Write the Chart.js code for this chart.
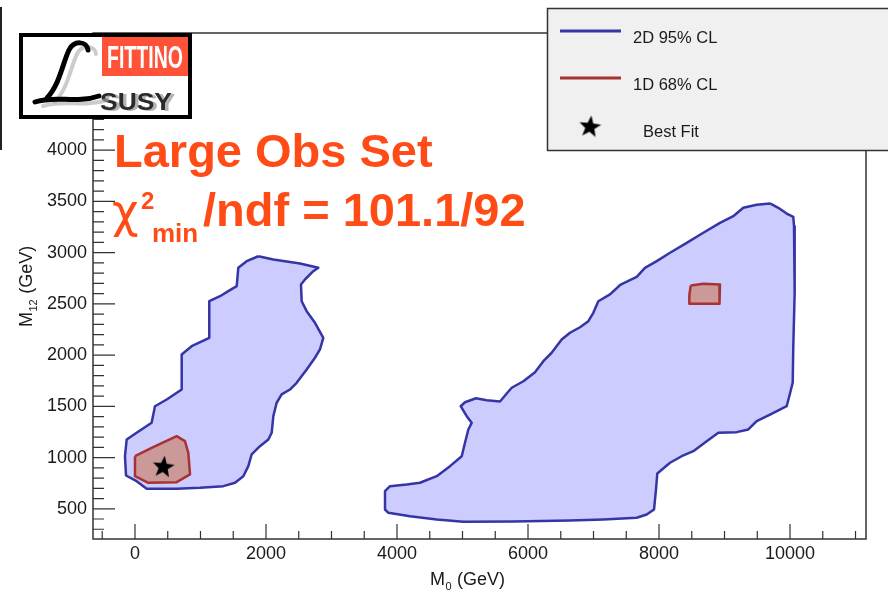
<!DOCTYPE html>
<html><head><meta charset="utf-8">
<script src="https://cdn.jsdelivr.net/npm/chart.js@4.4.1/dist/chart.umd.min.js"></script>
<style>html,body{margin:0;padding:0;background:#fff;}#wrap{width:888px;height:593px;position:relative;}</style>
</head><body><div id="wrap"><canvas id="c" width="888" height="593"></canvas></div>
<script>
// ---- data ----
const xTickValues = [0, 2000, 4000, 6000, 8000, 10000];
const yTickValues = [500, 1000, 1500, 2000, 2500, 3000, 3500, 4000];

// 2D 95% CL, low-M0 island
const cl95LeftM0  = [1883,2112,2519,2799,2722,2595,2534,2545,2621,2748,2875,2824,2748,2621,2468,2366,2239,2163,2112,2087,2036,1908,1781,1730,1654,1527,1349,992,636,178,25,-137,-153,-127,25,254,305,484,713,713,865,1134,1134,1298,1424,1553,1577,1705];
const cl95LeftM12 = [2965,2933,2894,2852,2819,2738,2689,2526,2429,2315,2169,2055,1974,1860,1730,1664,1616,1535,1404,1242,1176,1111,1030,916,818,754,721,705,695,695,769,825,1013,1176,1242,1339,1501,1567,1664,2006,2087,2169,2526,2575,2624,2673,2852,2917];
// 2D 95% CL, high-M0 island
const cl95RightM0  = [9695,9821,9949,10050,10061,10076,10066,10050,10041,9989,9949,9695,9491,9364,9186,8906,8728,8524,8346,8168,7974,7954,7924,7812,7659,7150,6641,5776,5012,4606,4198,3868,3817,3817,3893,4148,4351,4606,4809,4988,5038,5089,5140,5064,4972,5038,5206,5369,5573,5675,5751,5929,6107,6234,6361,6514,6641,6794,6921,6997,7073,7252,7415,7659,7786,7965,8168,8423,8676,8931,9134,9287,9491];
const cl95RightM12 = [3480,3438,3382,3350,3258,2965,2608,2087,1730,1599,1501,1420,1355,1274,1248,1242,1160,1062,1013,949,845,688,493,444,412,396,386,376,373,396,428,461,493,672,721,737,754,818,916,1013,1144,1274,1339,1404,1501,1540,1579,1560,1547,1625,1681,1745,1833,1941,2023,2152,2218,2272,2331,2413,2526,2592,2689,2764,2852,2917,2999,3096,3194,3291,3356,3438,3467];
// 1D 68% CL regions
const cl68LeftM0   = [0,254,636,763,814,840,636,204,0];
const cl68LeftM12  = [1013,1095,1209,1160,1047,835,760,754,818];
const cl68RightM0  = [8484,8676,8931,8931,8916,8473,8463];
const cl68RightM12 = [2679,2696,2689,2592,2501,2501,2582];
// best fit point
const bestFitM0  = [433];
const bestFitM12 = [916];

const seriesLabels = ['2D 95% CL', '1D 68% CL', 'Best Fit'];

// ---- helpers ----
function poly(xs, ys) {
  const pts = xs.map((x, i) => ({x: x, y: ys[i]}));
  pts.push({x: xs[0], y: ys[0]});
  return pts;
}
function makeStar(r) {
  const c = document.createElement('canvas');
  const s = Math.ceil(r * 2 + 2);
  c.width = s; c.height = s;
  const g = c.getContext('2d');
  g.translate(s / 2, s / 2 + 1);
  g.beginPath();
  for (let i = 0; i < 10; i++) {
    const rad = (i % 2) ? r * 0.42 : r;
    const a = -Math.PI / 2 + i * Math.PI / 5 + 0.12;
    g.lineTo(rad * Math.cos(a), rad * Math.sin(a));
  }
  g.closePath();
  g.fillStyle = '#000';
  g.fill();
  return c;
}
const starImg = makeStar(11.5);

const BLUE_LINE = '#3535a5', BLUE_FILL = '#ccccff';
const RED_LINE = '#a83232', RED_FILL = '#cc9999';
const ORANGE = '#ff4b16';
const FONT = "'Liberation Sans', Arial, Helvetica, sans-serif";

function contour(label, xs, ys, line, fillc) {
  return {
    label: label, data: poly(xs, ys), showLine: true, fill: 'shape',
    borderColor: line, backgroundColor: fillc, borderWidth: 2.5,
    pointRadius: 0, pointHoverRadius: 0, tension: 0, borderJoinStyle: 'round'
  };
}

const datasets = [
  { label: seriesLabels[2], data: bestFitM0.map((x, i) => ({x: x, y: bestFitM12[i]})),
    pointStyle: starImg, pointRadius: 10, showLine: false, borderColor: '#000', backgroundColor: '#000' },
  contour(seriesLabels[1], cl68LeftM0, cl68LeftM12, RED_LINE, RED_FILL),
  contour(seriesLabels[1], cl68RightM0, cl68RightM12, RED_LINE, RED_FILL),
  contour(seriesLabels[0], cl95LeftM0, cl95LeftM12, BLUE_LINE, BLUE_FILL),
  contour(seriesLabels[0], cl95RightM0, cl95RightM12, BLUE_LINE, BLUE_FILL)
];

const decor = {
  id: 'decor',
  afterDraw(chart) {
    const ctx = chart.ctx, a = chart.chartArea;
    const xs = chart.scales.x, ys = chart.scales.y;
    ctx.save();
    // frame
    ctx.strokeStyle = '#333'; ctx.lineWidth = 1.5;
    ctx.strokeRect(a.left, a.top, a.right - a.left, a.bottom - a.top);
    // inside ticks
    ctx.lineWidth = 1.2; ctx.strokeStyle = '#333';
    ctx.beginPath();
    for (let v = -500; v <= 11000; v += 500) {
      const p = xs.getPixelForValue(v);
      if (p < a.left || p > a.right) continue;
      const len = (v % 2000 === 0) ? 15 : 8;
      ctx.moveTo(p, a.bottom); ctx.lineTo(p, a.bottom - len);
    }
    for (let v = 300; v <= 5100; v += 100) {
      const p = ys.getPixelForValue(v);
      if (p < a.top || p > a.bottom) continue;
      const len = (v % 500 === 0) ? 22 : 11;
      ctx.moveTo(a.left, p); ctx.lineTo(a.left + len, p);
    }
    ctx.stroke();
    // axis titles
    ctx.fillStyle = '#1a1a1a';
    ctx.textBaseline = 'alphabetic'; ctx.textAlign = 'left';
    ctx.font = '18px ' + FONT;
    let x0 = 430;
    ctx.fillText('M', x0, 585); x0 += ctx.measureText('M').width;
    ctx.font = '11px ' + FONT; ctx.fillText('0', x0 + 0.5, 590); x0 += ctx.measureText('0').width + 1;
    ctx.font = '18px ' + FONT; ctx.fillText(' (GeV)', x0, 585);
    ctx.save();
    ctx.translate(32, 327); ctx.rotate(-Math.PI / 2);
    let y0 = 0;
    ctx.font = '18px ' + FONT; ctx.fillText('M', y0, 0); y0 += ctx.measureText('M').width;
    ctx.font = '11px ' + FONT; ctx.fillText('12', y0 + 0.5, 5); y0 += ctx.measureText('12').width + 1;
    ctx.font = '18px ' + FONT; ctx.fillText(' (GeV)', y0, 0);
    ctx.restore();
    // orange annotation
    ctx.fillStyle = ORANGE;
    ctx.font = 'bold 47px ' + FONT;
    ctx.fillText('Large Obs Set', 114, 167);
    ctx.font = '46px "DejaVu Sans", sans-serif';
    ctx.fillText('\u03C7', 112, 227);
    ctx.font = 'bold 24px ' + FONT;
    ctx.fillText('2', 141, 209);
    ctx.font = 'bold 26px ' + FONT;
    ctx.fillText('min', 152, 242);
    ctx.font = 'bold 47px ' + FONT;
    ctx.fillText('/ndf = 101.1/92', 203, 226);
    // thin line at left edge
    ctx.strokeStyle = '#222'; ctx.lineWidth = 2;
    ctx.beginPath(); ctx.moveTo(1, 7); ctx.lineTo(1, 150); ctx.stroke();
    // logo
    ctx.fillStyle = '#fff'; ctx.fillRect(19, 33, 173, 86);
    ctx.strokeStyle = '#000'; ctx.lineWidth = 4; ctx.strokeRect(21, 35, 169, 82);
    ctx.fillStyle = '#ff5238'; ctx.fillRect(102, 37, 86, 39);
    ctx.save();
    ctx.font = 'bold 32px ' + FONT;
    let w = ctx.measureText('FITTINO').width;
    ctx.translate(107, 68); ctx.scale(76 / w, 1);
    ctx.fillStyle = '#fff'; ctx.fillText('FITTINO', 0, 0);
    ctx.restore();
    ctx.save();
    ctx.font = 'bold 23px ' + FONT;
    w = ctx.measureText('SUSY').width;
    ctx.translate(100, 110); ctx.scale(72 / w, 1);
    ctx.fillStyle = 'rgba(160,160,160,0.8)'; ctx.fillText('SUSY', 3, 1);
    ctx.fillStyle = '#2a2a2a'; ctx.fillText('SUSY', 0, 0);
    ctx.restore();
    function drawL(dx, dy, color, lw) {
      ctx.strokeStyle = color; ctx.lineWidth = lw; ctx.lineCap = 'round';
      ctx.beginPath();
      ctx.moveTo(88 + dx, 50 + dy);
      ctx.bezierCurveTo(87 + dx, 41 + dy, 74 + dx, 40 + dy, 69 + dx, 50 + dy);
      ctx.bezierCurveTo(63 + dx, 62 + dy, 60 + dx, 84 + dy, 47 + dx, 98 + dy);
      ctx.stroke();
      ctx.beginPath();
      ctx.moveTo(35 + dx, 102 + dy);
      ctx.bezierCurveTo(55 + dx, 95 + dy, 76 + dx, 104 + dy, 99 + dx, 96 + dy);
      ctx.stroke();
    }
    drawL(8, 4, 'rgba(170,170,170,0.6)', 4);
    drawL(0, 0, '#000', 5);
    // legend
    ctx.fillStyle = '#f0f0f0'; ctx.fillRect(547, 8, 345, 143);
    ctx.strokeStyle = '#333'; ctx.lineWidth = 1.5; ctx.strokeRect(547.5, 8.5, 360, 142);
    ctx.lineCap = 'butt';
    ctx.font = '16.5px ' + FONT; ctx.fillStyle = '#1a1a1a';
    const entries = [
      {ds: datasets[3], y: 31, ty: 43, tx: 633},
      {ds: datasets[1], y: 78, ty: 90, tx: 633}
    ];
    entries.forEach(e => {
      ctx.strokeStyle = e.ds.borderColor; ctx.lineWidth = 3;
      ctx.beginPath(); ctx.moveTo(560, e.y); ctx.lineTo(621, e.y); ctx.stroke();
      ctx.fillStyle = '#1a1a1a'; ctx.fillText(e.ds.label, e.tx, e.ty);
    });
    ctx.drawImage(starImg, 590 - starImg.width / 2, 126 - starImg.height / 2);
    ctx.fillText(datasets[0].label, 643, 137);
    ctx.restore();
  }
};

new Chart(document.getElementById('c'), {
  type: 'scatter',
  data: { datasets: datasets },
  options: {
    responsive: false, animation: false,
    events: [],
    layout: { padding: { top: 33, right: 22, left: 0, bottom: 0 } },
    plugins: { legend: { display: false }, tooltip: { enabled: false } },
    scales: {
      x: {
        type: 'linear', min: -641, max: 11160,
        grid: { display: false, drawTicks: false },
        border: { display: false },
        afterBuildTicks: s => { s.ticks = xTickValues.map(v => ({value: v})); },
        afterFit: s => { s.height = 54; },
        ticks: { padding: 4, color: '#1a1a1a', font: { size: 18, family: FONT }, maxRotation: 0, autoSkip: false,
                 callback: v => String(v) }
      },
      y: {
        type: 'linear', min: 205, max: 5144,
        grid: { display: false, drawTicks: false },
        border: { display: false },
        afterBuildTicks: s => { s.ticks = yTickValues.map(v => ({value: v})); },
        afterFit: s => { s.width = 93; },
        ticks: { padding: 6, color: '#1a1a1a', font: { size: 18, family: FONT }, autoSkip: false,
                 callback: v => String(v) }
      }
    }
  },
  plugins: [decor]
});
</script>
</body></html>
